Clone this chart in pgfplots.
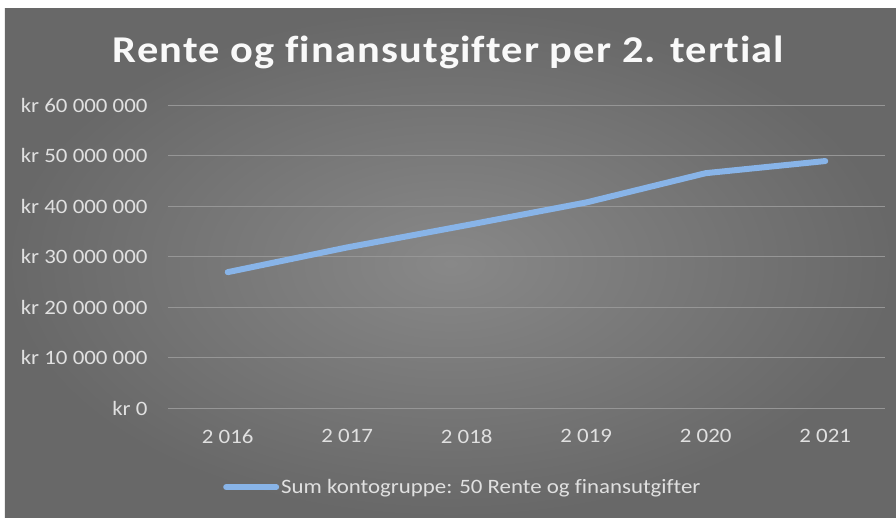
\documentclass[border=0pt]{standalone}
\usepackage{pgfplots}
\pgfplotsset{compat=1.18}
\usepackage{fontspec}
\setmainfont{Carlito}[FakeStretch=1.12, Ligatures=NoCommon]
\usetikzlibrary{backgrounds,calc}

\definecolor{bgmid}{RGB}{136,136,136}
\definecolor{bgedge}{RGB}{104,104,104}
\definecolor{gridc}{RGB}{150,150,150}
\definecolor{linec}{RGB}{136,180,232}
\definecolor{labc}{RGB}{224,224,224}

\begin{document}
\begin{tikzpicture}
\begin{axis}[
    name=ax,
    scale only axis,
    width=717bp, height=303bp,
    xmin=-0.5, xmax=5.5,
    ymin=0, ymax=60000000,
    xtick={0,1,2,3,4,5},
    xticklabels={2 016,2 017,2 018,2 019,2 020,2 021},
    ytick={0,10000000,20000000,30000000,40000000,50000000,60000000},
    yticklabels={kr 0,kr 10 000 000,kr 20 000 000,kr 30 000 000,kr 40 000 000,kr 50 000 000,kr 60 000 000},
    scaled y ticks=false,
    axis line style={draw=none},
    major tick length=0pt,
    ymajorgrids,
    grid style={gridc, line width=0.9bp},
    tick label style={font=\fontsize{20.5}{22}\selectfont, text=labc},
    yticklabel style={xshift=-17bp},
    xticklabel style={yshift=-18bp},
    legend style={at={(0.0767,-0.261)}, anchor=west, draw=none, fill=none,
        font=\fontsize{20.5}{22}\selectfont, text=labc, inner sep=0pt},
    legend image code/.code={\draw[#1] (0bp,0bp) -- (50bp,0bp);},
]
\addplot[linec, line width=6bp, line cap=round, line join=round] coordinates {
    (0,26900000) (1,31800000) (2,36200000) (3,40700000) (4,46500000) (5,48900000)
};
\addlegendentry{Sum kontogruppe: 50 Rente og finansutgifter}
\end{axis}
\begin{scope}[on background layer]
    \fill[white] ($(ax.south west)+(-168bp,-110bp)$) rectangle ($(ax.north east)+(11bp,105bp)$);
    \shade[inner color=bgmid, outer color=bgedge]
        ($(ax.south west)+(-163bp,-110bp)$) rectangle ($(ax.north east)+(11bp,96bp)$);
\end{scope}
\node[text=white!95!gray, font=\bfseries\fontsize{38}{42}\selectfont\addfontfeature{LetterSpace=3}]
    at ($(ax.north)+(-78bp,53bp)$) {Rente og finansutgifter per 2. tertial};
\end{tikzpicture}
\end{document}
